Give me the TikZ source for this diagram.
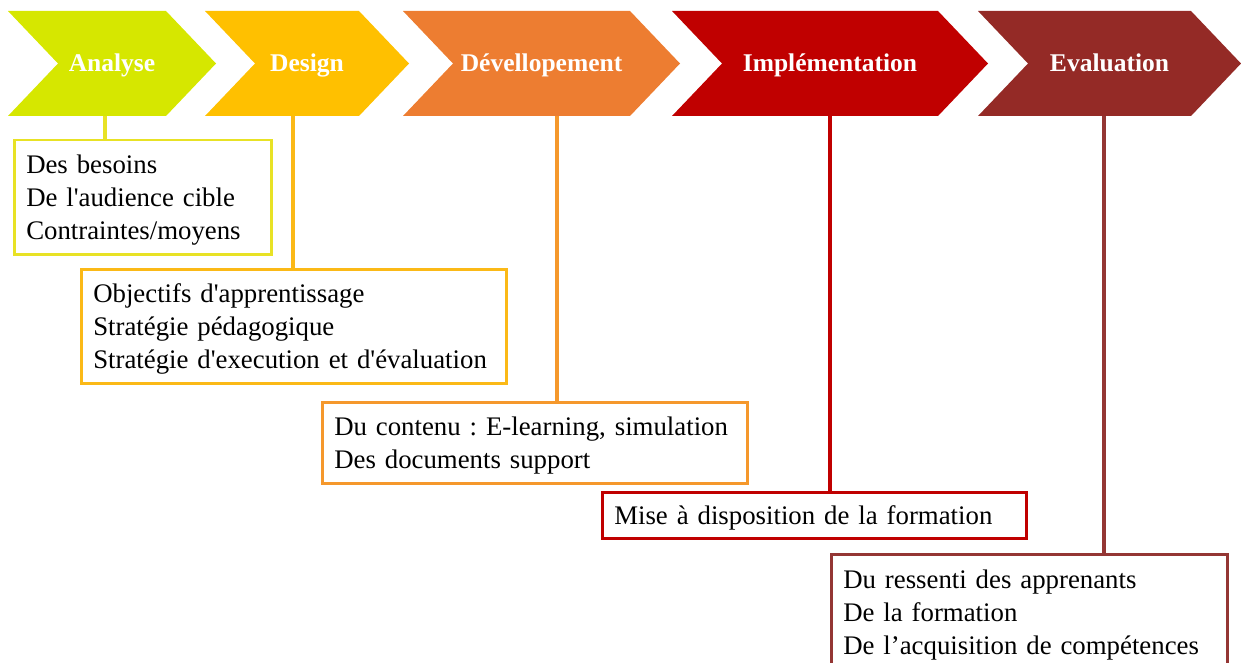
\documentclass[tikz,border=0pt]{standalone}
\usepackage{fontspec}
\setmainfont{Liberation Serif}
\usetikzlibrary{calc}
\definecolor{anacol}{HTML}{D6E700}
\definecolor{descol}{HTML}{FFC000}
\definecolor{devcol}{HTML}{ED7D31}
\definecolor{impcol}{HTML}{C00000}
\definecolor{evacol}{HTML}{942A26}
\definecolor{analine}{HTML}{E8E225}
\definecolor{desline}{HTML}{FBB917}
\definecolor{devline}{HTML}{F5982C}
\definecolor{impline}{HTML}{C00000}
\definecolor{evaline}{HTML}{943634}
\newcommand{\sq}{\textquotesingle}

\begin{document}
\begin{tikzpicture}[x=1pt,y=-1pt,
  phase/.style={text=white,anchor=base,font=\fontsize{25.5}{30}\selectfont\bfseries},
  stepbox/.style={draw,line width=2.5pt,fill=white,anchor=north west,align=left,
    inner xsep=12pt,inner ysep=0pt,font=\fontsize{26.8}{33}\selectfont\frenchspacing,
    execute at begin node={\rule{0pt}{24pt}}},
  link/.style={line width=3.5pt}]
      \useasboundingbox (0,0) rectangle (1241,663);
      % the five phases
      \foreach \xl/\xr/\lx/\col/\nm/\txt in {8/216/105/anacol/ana/Analyse,
          205/409/293/descol/des/Design,
          403/680/557/devcol/dev/Dévellopement,
          672/988/830/impcol/imp/Implémentation,
          978/1241/1104/evacol/eva/Evaluation}{
        \fill[\col] (\xl,11) -- (\xr-50,11) -- (\xr,63.5) -- (\xr-50,116)
          -- (\xl,116) -- (\xl+50,63.5) -- cycle;
        \node[phase] (\nm) at ({(\xl+\xr)/2},71.5) {\txt};
        \coordinate (\nm-b) at (\lx,116);
      }
      % the boxes
      \node[stepbox,draw=analine,text width=233pt,minimum height=114pt] (b1) at (13,139)
        {Des besoins\\De l\sq audience cible\\Contraintes/moyens};
      \node[stepbox,draw=desline,text width=401pt,minimum height=114pt] (b2) at (80,268)
        {Objectifs d\sq apprentissage\\Stratégie pédagogique\\Stratégie d\sq execution et d\sq évaluation};
      \node[stepbox,draw=devline,text width=401pt,minimum height=81pt] (b3) at (321,401)
        {Du contenu : E-learning, simulation\\Des documents support};
      \node[stepbox,draw=impline,text width=400pt,minimum height=46pt] (b4) at (601,491)
        {Mise à disposition de la formation};
      \node[stepbox,draw=evaline,text width=372pt,minimum height=116pt] (b5) at (830,553)
        {Du ressenti des apprenants\\De la formation\\De l’acquisition de compétences};
      % links
      \draw[link,analine] (ana-b) -- (ana-b |- b1.north);
      \draw[link,desline] (des-b) -- (des-b |- b2.north);
      \draw[link,devline] (dev-b) -- (dev-b |- b3.north);
      \draw[link,impline] (imp-b) -- (imp-b |- b4.north);
      \draw[link,evaline] (eva-b) -- (eva-b |- b5.north);
\end{tikzpicture}
\end{document}
